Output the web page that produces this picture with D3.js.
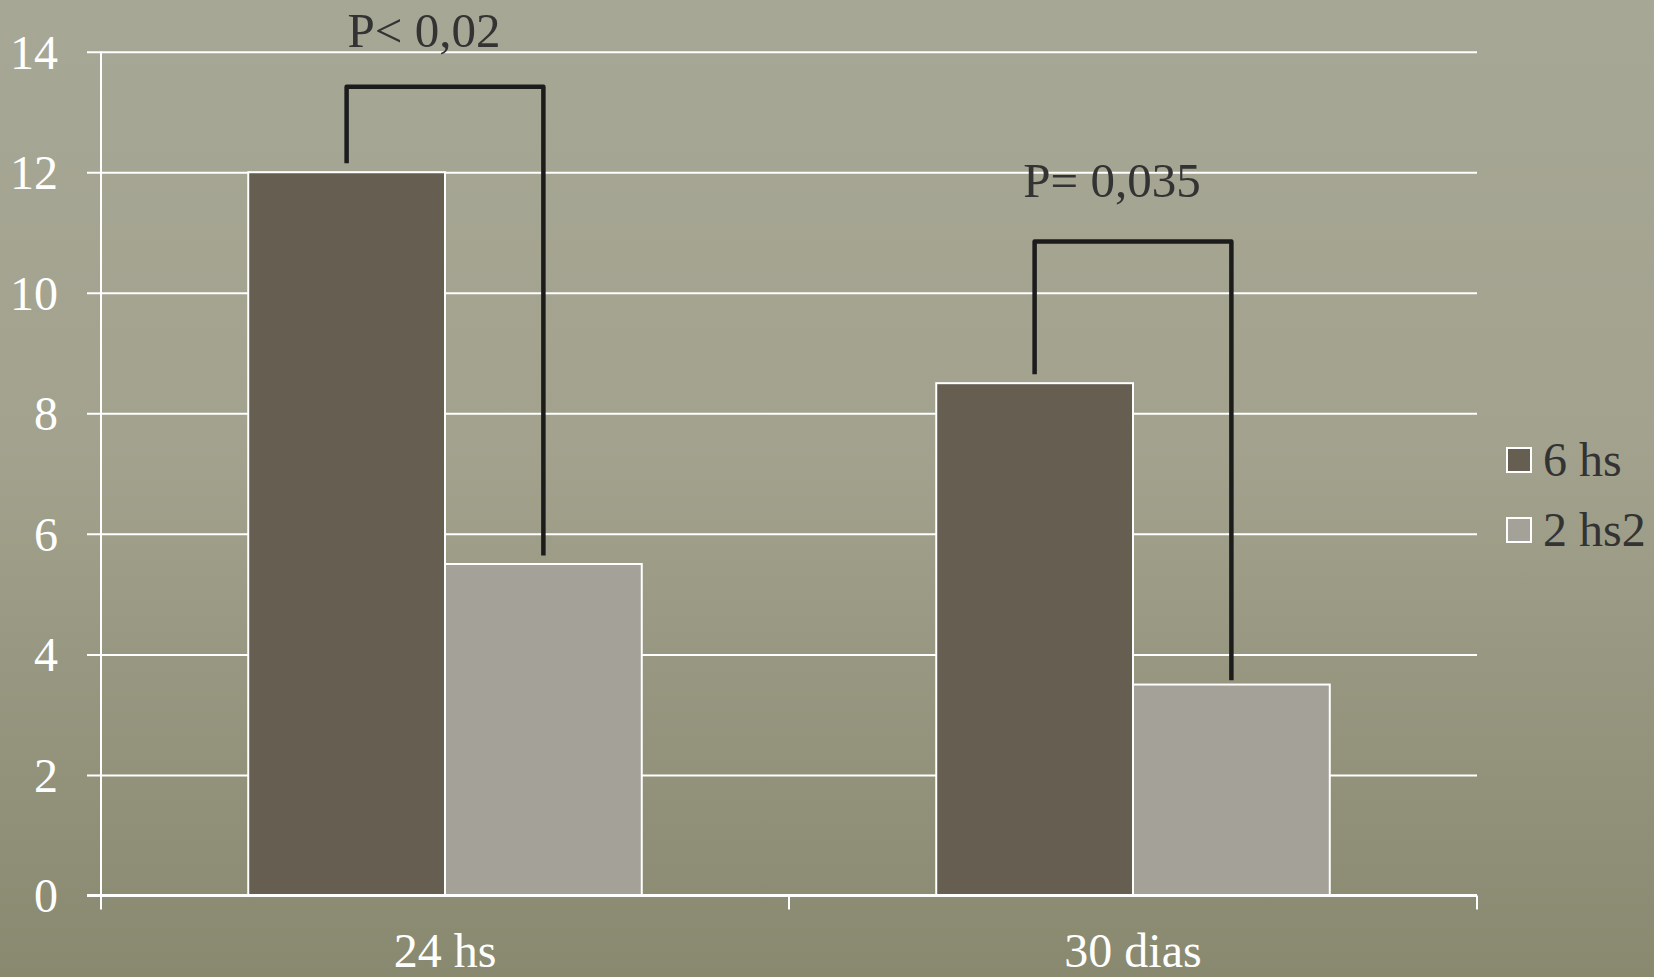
<!DOCTYPE html>
<html><head><meta charset="utf-8">
<script src="https://cdn.jsdelivr.net/npm/d3@7"></script>
<style>html,body{margin:0;padding:0;overflow:hidden;}svg{display:block;}</style>
</head><body>
<svg id="chart" width="1654" height="977"></svg>
<script>
const categories = ["24 hs", "30 dias"];
const seriesNames = ["6 hs", "2 hs2"];
const values6hs = [12, 8.5];
const values2hs2 = [5.5, 3.5];
const yTicks = [0, 2, 4, 6, 8, 10, 12, 14];
const pLabels = ["P< 0,02", "P= 0,035"];
// bracket levels (data units): top of bracket, left end, right end
const bracketTop = [13.42, 10.85];
const bracketLeftEnd = [12.15, 8.65];
const bracketRightEnd = [5.64, 3.57];
const colors = ["#655e51", "#a4a199"];

(function () {
const W = 1654, H = 977;
const svg = d3.select("#chart");
const defs = svg.append("defs");
const lg = defs.append("linearGradient").attr("id","bg").attr("x1",0).attr("y1",0).attr("x2",0).attr("y2",1);
lg.append("stop").attr("offset","0%").attr("stop-color","#a7a796");
lg.append("stop").attr("offset","45%").attr("stop-color","#a2a28e");
lg.append("stop").attr("offset","100%").attr("stop-color","#898970");
svg.append("rect").attr("width",W).attr("height",H).attr("fill","url(#bg)");

const pLeft = 101, pRight = 1477, pTop = 51.7, pBottom = 895.5;
const y = d3.scaleLinear().domain([0, 14]).range([pBottom, pTop]);
const x0 = d3.scaleBand().domain(categories).range([pLeft, pRight]).padding(0);
const step = x0.step();
const gap = step * 0.214;
const x1 = d3.scaleBand().domain(seriesNames).range([gap, step - gap]).padding(0);

const font = "'Liberation Serif', 'Times New Roman', serif";

// grid + y labels
const gy = svg.append("g").attr("transform", `translate(${pLeft},0)`)
  .call(d3.axisLeft(y).tickValues(yTicks).tickSizeInner(-(pRight-pLeft)).tickSizeOuter(0).tickPadding(43));
gy.select(".domain").remove();
gy.selectAll(".tick line").attr("x1", -14).attr("stroke", "#ffffff").attr("stroke-width", 2);
gy.selectAll(".tick text").attr("fill", "#ffffff").style("font-family", font).style("font-size", "48px").attr("dy","0.34em");

// bars
const data = categories.map((c, i) => ({cat: c, vals: [values6hs[i], values2hs2[i]]}));
const groups = svg.append("g").selectAll("g").data(data).join("g")
  .attr("transform", d => `translate(${x0(d.cat)},0)`);
groups.selectAll("rect").data(d => d.vals.map((v, j) => ({s: seriesNames[j], v, j})))
  .join("rect")
  .attr("x", d => x1(d.s)).attr("width", x1.bandwidth())
  .attr("y", d => y(d.v)).attr("height", d => y(0) - y(d.v))
  .attr("fill", d => colors[d.j]).attr("stroke", "#ffffff").attr("stroke-width", 2);

// y axis line
svg.append("line").attr("x1", pLeft).attr("x2", pLeft).attr("y1", pTop).attr("y2", pBottom + 9)
  .attr("stroke", "#ffffff").attr("stroke-width", 2);
// x axis
svg.append("line").attr("x1", pLeft - 14).attr("x2", pRight).attr("y1", pBottom).attr("y2", pBottom)
  .attr("stroke", "#ffffff").attr("stroke-width", 3);
const bounds = categories.map(c => x0(c)).concat([pRight]);
svg.append("g").selectAll("line").data(bounds).join("line")
  .attr("x1", d => d).attr("x2", d => d).attr("y1", pBottom).attr("y2", pBottom + 14)
  .attr("stroke", "#ffffff").attr("stroke-width", 2);
const gx = svg.append("g").attr("transform", `translate(0,${pBottom})`)
  .call(d3.axisBottom(x0).tickSize(0).tickPadding(37));
gx.select(".domain").remove();
gx.selectAll(".tick text").attr("fill", "#ffffff").style("font-family", font).style("font-size", "48px");

// brackets
const labelDy = [40, 45];
data.forEach((d, i) => {
  const xl = x0(d.cat) + x1(seriesNames[0]) + x1.bandwidth()/2;
  const xr = x0(d.cat) + x1(seriesNames[1]) + x1.bandwidth()/2;
  const path = d3.path();
  path.moveTo(xl, y(bracketLeftEnd[i]));
  path.lineTo(xl, y(bracketTop[i]));
  path.lineTo(xr, y(bracketTop[i]));
  path.lineTo(xr, y(bracketRightEnd[i]));
  svg.append("path").attr("d", path.toString()).attr("fill", "none")
    .attr("stroke", "#1c1c1c").attr("stroke-width", 4.5).attr("stroke-linejoin", "round");
  svg.append("text").attr("x", (xl + xr) / 2 - 21).attr("y", y(bracketTop[i]) - labelDy[i])
    .attr("text-anchor", "middle").attr("fill", "#333333")
    .style("font-family", font).style("font-size", "49px").text(pLabels[i]);
});

// legend
const leg = svg.append("g").attr("transform", "translate(1507,0)");
seriesNames.forEach((s, j) => {
  const cy = 460 + j * 70;
  leg.append("rect").attr("x", 0).attr("y", cy - 12).attr("width", 24).attr("height", 24)
    .attr("fill", colors[j]).attr("stroke", "#ffffff").attr("stroke-width", 2);
  leg.append("text").attr("x", 36).attr("y", cy + 16).attr("fill", "#333333")
    .style("font-family", font).style("font-size", "48px").text(s);
});
})();
</script>
</body></html>
